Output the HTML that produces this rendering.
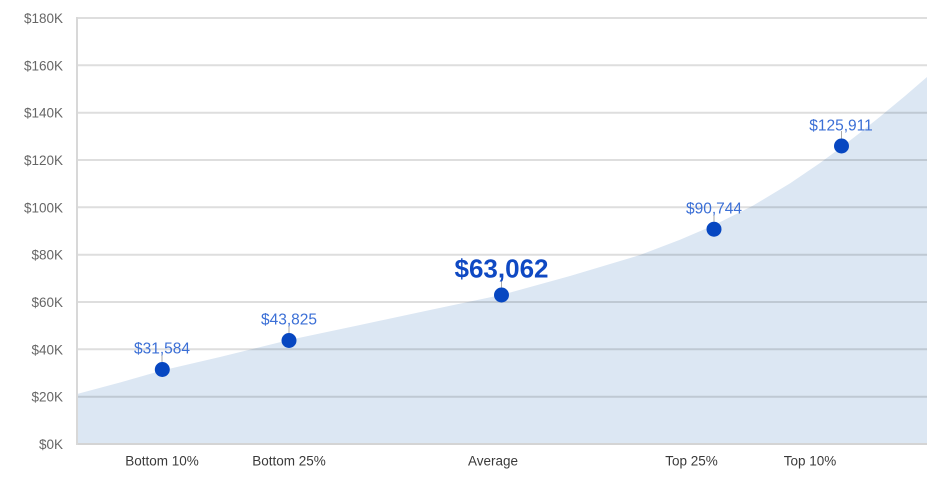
<!DOCTYPE html>
<html><head><meta charset="utf-8"><style>
html,body{margin:0;padding:0;background:#fff;}
svg{display:block;}
text{font-family:"Liberation Sans",Arial,sans-serif;}
</style></head><body>
<svg width="941" height="483" viewBox="0 0 941 483" xmlns="http://www.w3.org/2000/svg">
<rect width="941" height="483" fill="#fff"/>
<!-- area -->
<path d="M77,394 L120,382.5 L162,370.5 L220,357 L289,340 L360,325 L430,310 L501,295 L570,276 L640,255 L680,239.8 L713,225.6 L753,205.6 L790,183.4 L820,163 L841,147.5 L860,132.7 L880,116.7 L905,96 L927,77 L927,444 L77,444 Z" fill="#dce7f3"/>
<!-- gridlines -->
<g stroke="#000" stroke-opacity="0.13" stroke-width="2">
<line x1="77" y1="18" x2="927" y2="18"/>
<line x1="77" y1="65.3" x2="927" y2="65.3"/>
<line x1="77" y1="112.7" x2="927" y2="112.7"/>
<line x1="77" y1="160" x2="927" y2="160"/>
<line x1="77" y1="207.3" x2="927" y2="207.3"/>
<line x1="77" y1="254.7" x2="927" y2="254.7"/>
<line x1="77" y1="302" x2="927" y2="302"/>
<line x1="77" y1="349.3" x2="927" y2="349.3"/>
<line x1="77" y1="396.7" x2="927" y2="396.7"/>
</g>
<line x1="77" y1="444" x2="927" y2="444" stroke="#d4d4d4" stroke-width="2"/>
<line x1="77" y1="17" x2="77" y2="445" stroke="#d8d8d8" stroke-width="2"/>
<!-- y labels -->
<g fill="#666" font-size="13.5" text-anchor="end">
<text x="63" y="23">$180K</text>
<text x="63" y="70.3">$160K</text>
<text x="63" y="117.7">$140K</text>
<text x="63" y="165">$120K</text>
<text x="63" y="212.3">$100K</text>
<text x="63" y="259.7">$80K</text>
<text x="63" y="307">$60K</text>
<text x="63" y="354.3">$40K</text>
<text x="63" y="401.7">$20K</text>
<text x="63" y="449">$0K</text>
</g>
<!-- x labels -->
<g fill="#3a3a3a" font-size="13.5" text-anchor="middle">
<text x="162" y="465.5">Bottom 10%</text>
<text x="289" y="465.5">Bottom 25%</text>
<text x="493" y="465.5">Average</text>
<text x="691.5" y="465.5">Top 25%</text>
<text x="810" y="465.5">Top 10%</text>
</g>
<!-- ticks -->
<g stroke="#aaa" stroke-width="1">
<line x1="162" y1="354" x2="162" y2="362"/>
<line x1="289" y1="325" x2="289" y2="333"/>
<line x1="501.5" y1="278" x2="501.5" y2="288"/>
<line x1="714" y1="214" x2="714" y2="222"/>
<line x1="841.5" y1="131" x2="841.5" y2="139"/>
</g>
<!-- points -->
<g fill="#0747c1">
<circle cx="162.3" cy="369.5" r="7.5"/>
<circle cx="289" cy="340.5" r="7.5"/>
<circle cx="501.5" cy="295" r="7.5"/>
<circle cx="714" cy="229.2" r="7.5"/>
<circle cx="841.5" cy="146" r="7.5"/>
</g>
<!-- value labels -->
<g fill="#3b6fd6" font-size="15.5" text-anchor="middle">
<text x="162" y="353.5">$31,584</text>
<text x="289" y="324.5">$43,825</text>
<text x="714" y="213.5">$90,744</text>
<text x="841" y="130.5">$125,911</text>
</g>
<text x="501.5" y="277.3" fill="#0f49c3" font-size="26" font-weight="bold" text-anchor="middle">$63,062</text>
</svg>
</body></html>
